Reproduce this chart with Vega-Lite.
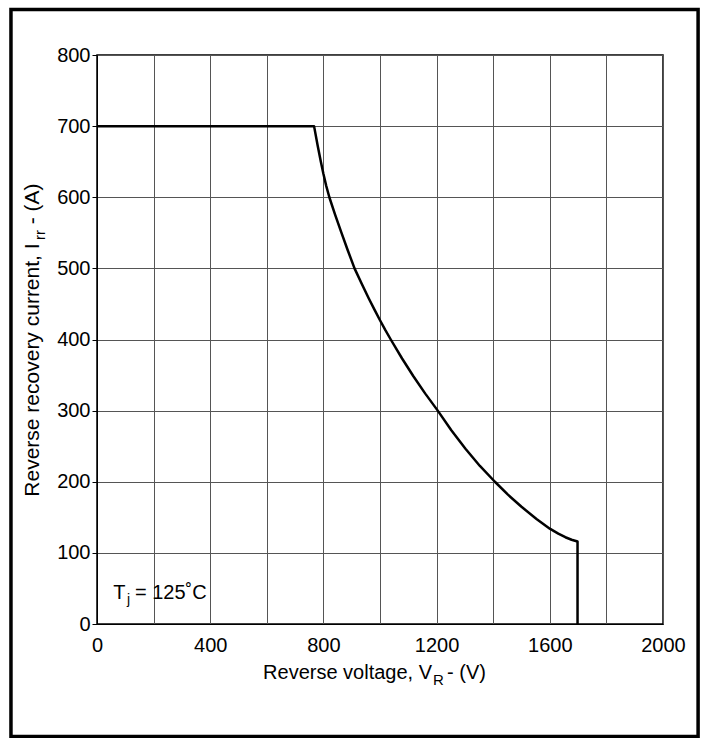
{
  "$schema": "https://vega.github.io/schema/vega-lite/v6.json",
  "width": 566,
  "height": 569,
  "autosize": {"type": "none"},
  "padding": {"left": 97, "top": 55, "right": 45, "bottom": 114},
  "background": "white",
  "config": {
    "font": "Liberation Sans",
    "view": {"stroke": "black", "strokeWidth": 1.5},
    "text": {"font": "Liberation Sans", "color": "black", "baseline": "middle"},
    "axis": {
      "labelFont": "Liberation Sans",
      "labelFontSize": 20,
      "labelColor": "black",
      "gridColor": "#555555",
      "gridWidth": 1,
      "gridOpacity": 1,
      "domainColor": "black",
      "tickColor": "black"
    }
  },
  "datasets": {
    "curve": [
      {"i": 0, "v": 0, "irr": 700},
      {"i": 1, "v": 767, "irr": 700},
      {"i": 2, "v": 780, "irr": 672},
      {"i": 3, "v": 791, "irr": 650},
      {"i": 4, "v": 800, "irr": 633},
      {"i": 5, "v": 810, "irr": 616},
      {"i": 6, "v": 821, "irr": 600},
      {"i": 7, "v": 841, "irr": 576},
      {"i": 8, "v": 863, "irr": 551},
      {"i": 9, "v": 886, "irr": 525.5},
      {"i": 10, "v": 910, "irr": 500},
      {"i": 11, "v": 935, "irr": 478.6},
      {"i": 12, "v": 960, "irr": 458.1},
      {"i": 13, "v": 980, "irr": 442.4},
      {"i": 14, "v": 1000, "irr": 427.1},
      {"i": 15, "v": 1019, "irr": 413.1},
      {"i": 16, "v": 1038, "irr": 400},
      {"i": 17, "v": 1078, "irr": 373.3},
      {"i": 18, "v": 1118, "irr": 348.3},
      {"i": 19, "v": 1160, "irr": 323.9},
      {"i": 20, "v": 1204, "irr": 300},
      {"i": 21, "v": 1252, "irr": 272.4},
      {"i": 22, "v": 1302, "irr": 246.4},
      {"i": 23, "v": 1353, "irr": 222.2},
      {"i": 24, "v": 1406, "irr": 200},
      {"i": 25, "v": 1452, "irr": 181.9},
      {"i": 26, "v": 1500, "irr": 164.8},
      {"i": 27, "v": 1553, "irr": 147.7},
      {"i": 28, "v": 1600, "irr": 134},
      {"i": 29, "v": 1630, "irr": 127},
      {"i": 30, "v": 1655, "irr": 122},
      {"i": 31, "v": 1677, "irr": 118.5},
      {"i": 32, "v": 1698, "irr": 116},
      {"i": 33, "v": 1698, "irr": 0}
    ],
    "labels": [
      {"t": "Reverse voltage, V", "x": 1184, "y": -69, "size": 20, "sub": 0, "angle": 0, "align": "right"},
      {"t": "R", "x": 1187, "y": -69, "size": 15, "sub": 1, "angle": 0, "align": "left"},
      {"t": "- (V)", "x": 1237, "y": -69, "size": 20, "sub": 0, "angle": 0, "align": "left"},
      {"t": "T", "x": 57, "y": 44, "size": 20, "sub": 0, "angle": 0, "align": "left"},
      {"t": "j", "x": 106, "y": 44, "size": 14, "sub": 1, "angle": 0, "align": "left"},
      {"t": "= 125˚C", "x": 134, "y": 44, "size": 20, "sub": 0, "angle": 0, "align": "left"},
      {"t": "Reverse recovery current, I", "x": -226, "y": 179, "size": 21, "sub": 0, "angle": 270, "align": "left"},
      {"t": "rr", "x": -226, "y": 540, "size": 15, "sub": 1, "angle": 270, "align": "left"},
      {"t": "- (A)", "x": -226, "y": 562, "size": 21, "sub": 0, "angle": 270, "align": "left"}
    ]
  },
  "layer": [
    {
      "data": {"name": "curve"},
      "mark": {"type": "line", "color": "black", "strokeWidth": 2.5, "strokeJoin": "round"},
      "encoding": {
        "x": {
          "field": "v",
          "type": "quantitative",
          "scale": {"domain": [0, 2000], "nice": false},
          "axis": {
            "values": [0, 200, 400, 600, 800, 1000, 1200, 1400, 1600, 1800, 2000],
            "labelExpr": "datum.value % 400 === 0 ? datum.label : ''",
            "format": "d",
            "tickSize": 0,
            "labelPadding": 11,
            "title": null,
            "grid": true,
            "labelFlush": false
          }
        },
        "y": {
          "field": "irr",
          "type": "quantitative",
          "scale": {"domain": [0, 800], "nice": false},
          "axis": {
            "values": [0, 100, 200, 300, 400, 500, 600, 700, 800],
            "format": "d",
            "tickSize": 5,
            "labelPadding": 2,
            "title": null,
            "grid": true,
            "labelFlush": false
          }
        },
        "order": {"field": "i", "type": "quantitative"}
      }
    },
    {
      "data": {"name": "labels"},
      "transform": [{"filter": "datum.sub == 0 && datum.align == 'right'"}],
      "mark": {"type": "text", "align": "right"},
      "encoding": {
        "x": {"field": "x", "type": "quantitative"},
        "y": {"field": "y", "type": "quantitative"},
        "text": {"field": "t"},
        "size": {"field": "size", "type": "quantitative", "scale": null},
        "angle": {"field": "angle", "type": "quantitative", "scale": null}
      }
    },
    {
      "data": {"name": "labels"},
      "transform": [{"filter": "datum.sub == 0 && datum.align == 'left'"}],
      "mark": {"type": "text", "align": "left"},
      "encoding": {
        "x": {"field": "x", "type": "quantitative"},
        "y": {"field": "y", "type": "quantitative"},
        "text": {"field": "t"},
        "size": {"field": "size", "type": "quantitative", "scale": null},
        "angle": {"field": "angle", "type": "quantitative", "scale": null}
      }
    },
    {
      "data": {"name": "labels"},
      "transform": [{"filter": "datum.sub == 1"}],
      "mark": {"type": "text", "align": "left", "dy": 7},
      "encoding": {
        "x": {"field": "x", "type": "quantitative"},
        "y": {"field": "y", "type": "quantitative"},
        "text": {"field": "t"},
        "size": {"field": "size", "type": "quantitative", "scale": null},
        "angle": {"field": "angle", "type": "quantitative", "scale": null}
      }
    },
    {
      "data": {"values": [{"x1": -304, "x2": 2124, "y1": 864, "y2": -158}]},
      "mark": {"type": "rect", "fillOpacity": 0, "stroke": "black", "strokeWidth": 3.5},
      "encoding": {
        "x": {"field": "x1", "type": "quantitative"},
        "x2": {"field": "x2"},
        "y": {"field": "y1", "type": "quantitative"},
        "y2": {"field": "y2"}
      }
    }
  ]
}
